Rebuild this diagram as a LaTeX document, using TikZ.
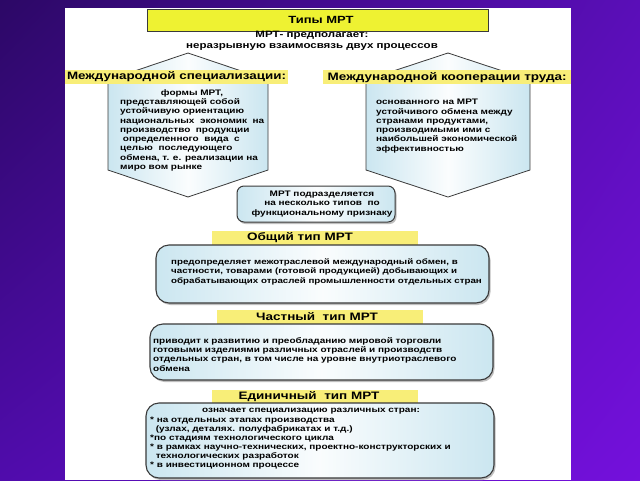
\documentclass[tikz,border=0pt]{standalone}
\usepackage{fontspec}
\setmainfont[FakeStretch=1.25]{Liberation Sans}
\usetikzlibrary{calc,shadings}
\definecolor{bgA}{HTML}{2C0866}
\definecolor{bgB}{HTML}{500CAC}
\definecolor{bgC}{HTML}{5A0EB8}
\definecolor{bgD}{HTML}{7410DC}
\definecolor{ttl}{HTML}{EEF232}
\definecolor{lbl}{HTML}{F8EE78}
\definecolor{boxb}{HTML}{CBE6F0}
\definecolor{edge}{HTML}{3A3A3A}
\tikzset{
  hexa/.style={draw=edge, line width=0.8pt, left color=boxb, right color=boxb, middle color=white!92!boxb},
  rbox/.style={draw=edge, line width=1.1pt, rounded corners=13pt, left color=boxb, right color=boxb, middle color=white!90!boxb},
  shad/.style={fill=black!25, rounded corners=13pt},
  ybar/.style={fill=lbl, draw=none},
  txt/.style={font=\bfseries\fontsize{8}{9.3}\selectfont, inner sep=0pt, align=left, anchor=north west},
  head/.style={font=\bfseries\fontsize{10.8}{12}\selectfont, inner sep=0pt},
}
\begin{document}
\begin{tikzpicture}[x=1pt,y=-1pt]
\useasboundingbox (0,0) rectangle (640,480);
\shade[upper left=bgA, upper right=bgC, lower left=bgB, lower right=bgD] (0,0) rectangle (640,480);
\fill[white] (65,8) rectangle (571,480);
% title
\node[draw=edge, line width=0.6pt, fill=ttl, minimum width=341pt, minimum height=22pt, anchor=north west, inner sep=0pt] (title) at (147,9) {};
\node[head, font=\bfseries\fontsize{10.4}{12}\selectfont] (titletext) at (321,20) {Типы МРТ};
\node[font=\bfseries\fontsize{9.2}{11}\selectfont, align=center, inner sep=0pt] (sub) at (312,41) {МРТ- предполагает:\\неразрывную взаимосвязь двух процессов};
% hexagons
\path[hexa] (188,53) -- (268,80) -- (268,170) -- (188,197) -- (108,170) -- (108,80) -- cycle;
\path[hexa] (448,53) -- (530,80) -- (530,170) -- (448,197) -- (366,170) -- (366,80) -- cycle;
% label bars
\node[ybar, minimum width=223pt, minimum height=14pt, anchor=north west, inner sep=0pt] (barL) at (65,70) {};
\node[head, font=\bfseries\fontsize{10.7}{12}\selectfont] (barLt) at (176.5,77) {Международной специализации:};
\node[ybar, minimum width=248pt, minimum height=14pt, anchor=north west, inner sep=0pt] (barR) at (323,70) {};
\node[head] (barRt) at (barR.center) {Международной кооперации труда:};
% hex texts
\node[txt, anchor=north] (hL1) at (192,89) {формы МРТ,};
\node[txt] (hL) at (120,98.3) {представляющей собой\\устойчивую ориентацию\\национальных\ \ экономик\ \ на\\производство\ \ продукции\\\ определенного\ \ вида\ \ с\\целью\ \ последующего\\обмена, т. е. реализации на\\миро вом рынке};
\node[txt] (hR) at (376,99) {основанного на МРТ\\устойчивого обмена между\\странами продуктами,\\производимыми ими с\\наибольшей экономической\\эффективностью};
% middle box
\fill[shad, rounded corners=7pt] (238.5,188) rectangle (396.5,224);
\path[rbox, rounded corners=7pt, line width=1pt] (237,186) rectangle (395,222);
\node[txt, align=center, anchor=center] (mid) at (322,204) {МРТ подразделяется\\на несколько типов\ \ по\\функциональному признаку};
% type 1
\node[ybar, minimum width=206pt, minimum height=14pt, anchor=north west, inner sep=0pt] (t1bar) at (212,231) {};
\node[head] (t1) at (300,238) {Общий тип МРТ};
\fill[shad] (157.5,247) rectangle (490.5,305);
\path[rbox] (156,245) rectangle (489,303);
\node[txt, font=\bfseries\fontsize{7.8}{9.5}\selectfont] (b1) at (171,258) {предопределяет межотраслевой международный обмен, в\\частности, товарами (готовой продукцией) добывающих и\\обрабатывающих отраслей промышленности отдельных стран};
% type 2
\node[ybar, minimum width=206pt, minimum height=14pt, anchor=north west, inner sep=0pt] (t2bar) at (217,310) {};
\node[head] (t2) at (317,317) {Частный\ \ тип МРТ};
\fill[shad] (151.5,326) rectangle (494.5,382);
\path[rbox] (150,324) rectangle (493,380);
\node[txt] (b2) at (153,337) {приводит к развитию и преобладанию мировой торговли\\готовыми изделиями различных отраслей и производств\\отдельных стран, в том числе на уровне внутриотраслевого\\обмена};
% type 3
\node[ybar, minimum width=206pt, minimum height=13pt, anchor=north west, inner sep=0pt] (t3bar) at (212,390) {};
\node[head] (t3) at (309,396.5) {Единичный\ \ тип МРТ};
\fill[shad] (147.5,405) rectangle (495.5,480);
\path[rbox] (146,403) rectangle (494,478);
\node[txt, font=\bfseries\fontsize{8}{9}\selectfont] (b3a) at (202,408) {означает специализацию различных стран:};
\node[txt, font=\bfseries\fontsize{8}{9}\selectfont] (b3) at (150,417) {* на отдельных этапах производства\\\ \ (узлах, деталях. полуфабрикатах и т.д.)\\*по стадиям технологического цикла\\* в рамках научно-технических, проектно-конструкторских и\\\ \ технологических разработок\\* в инвестиционном процессе};
\end{tikzpicture}
\end{document}
